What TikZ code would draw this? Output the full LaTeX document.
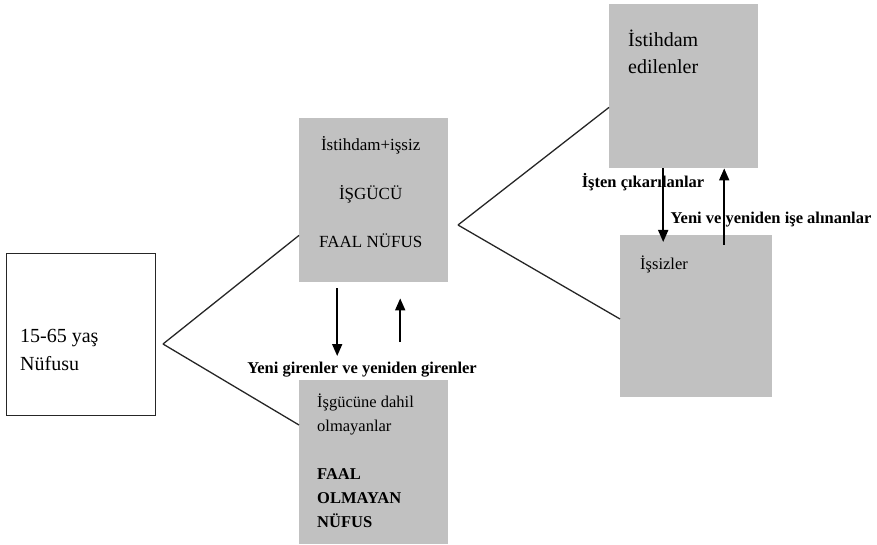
\documentclass[tikz,border=0pt]{standalone}
\usepackage{fontspec}
\setmainfont{Liberation Serif}
\usetikzlibrary{positioning,arrows.meta}
\definecolor{boxgray}{RGB}{193,193,193}
\begin{document}
\begin{tikzpicture}[x=1pt,y=1pt,
    box/.style={draw=black!85,line width=1.4pt,minimum width=149pt,minimum height=162pt,inner sep=0,anchor=north west},
    graybox/.style={fill=boxgray,minimum width=149pt,minimum height=164pt,inner sep=0,anchor=north west},
    txt/.style={inner sep=0,align=left},
    lbl/.style={inner sep=0,font=\fontsize{16.5}{20}\selectfont\bfseries},
    link/.style={line width=1.3pt,black!85},
    flow/.style={line width=1.7pt,-{Triangle[length=12pt,width=10pt]}}]
  \useasboundingbox (0,0) rectangle (877,544);
  % boxes
  \node[box] (nufus) at (6,291) {};
  \node[graybox] (isgucu) at (299,426) {};
  \node[graybox] (faalolmayan) at (299,164) {};
  \node[graybox] (istihdam) at (609,540) {};
  \node[graybox,minimum width=152pt,minimum height=162pt] (issizler) at (620,309) {};
  % texts in the boxes
  \node[txt,anchor=west,font=\fontsize{20}{28}\selectfont] (nufustxt) at ([shift={(14,-15)}]nufus.west) {15-65 yaş\\Nüfusu};
  \node[txt,align=center,font=\fontsize{17}{48.5}\selectfont] (isgucutxt) at ([shift={(-3,8)}]isgucu.center) {İstihdam+işsiz\\İŞGÜCÜ\\FAAL NÜFUS};
  \node[txt,anchor=north west,font=\fontsize{16.5}{24}\selectfont] (faaltxt) at ([shift={(18,-14)}]faalolmayan.north west) {İşgücüne dahil\\olmayanlar\\[24pt]\textbf{FAAL}\\\textbf{OLMAYAN}\\\textbf{NÜFUS}};
  \node[txt,anchor=west,font=\fontsize{20}{27}\selectfont] (istihdamtxt) at (628,492) {İstihdam\\edilenler};
  \node[txt,anchor=west,font=\fontsize{16.5}{20}\selectfont] (issizlertxt) at (640,280) {İşsizler};
  % branches
  \coordinate (b1) at (163,200);
  \coordinate (b2) at (458,319);
  \draw[link] (b1) -- ([yshift=47]isgucu.south west);
  \draw[link] (b1) -- ([yshift=-45]faalolmayan.north west);
  \draw[link] (b2) -- ([yshift=61]istihdam.south west);
  \draw[link] (b2) -- ([yshift=-84]issizler.north west);
  % flows
  \node[lbl] (girenler) at (362,174) {Yeni girenler ve yeniden girenler};
  \node[lbl] (cikarilan) at (643,362) {İşten çıkarılanlar};
  \node[lbl] (alinan) at (771,324) {Yeni ve yeniden işe alınanlar};
  \draw[flow] ([shift={(-36.5,-6)}]isgucu.south) -- ([shift={(-36.5,24)}]faalolmayan.north);
  \draw[flow] ([shift={(26.5,38)}]faalolmayan.north) -- ([shift={(26.5,-16)}]isgucu.south);
  \draw[flow] ([xshift=-20.5]istihdam.south) -- ([shift={(-33,-7)}]issizler.north);
  \draw[flow] ([shift={(28,-10)}]issizler.north) -- ([shift={(40.5,0)}]istihdam.south);
\end{tikzpicture}
\end{document}
